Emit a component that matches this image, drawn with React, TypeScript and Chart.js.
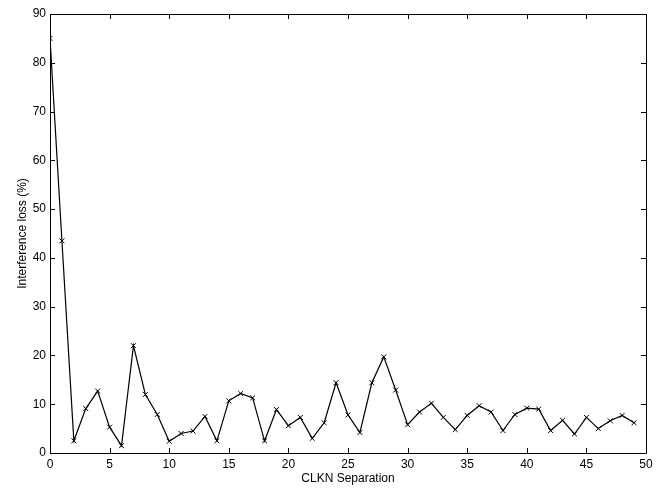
import React, { useEffect, useRef } from "react";
import { Chart, registerables } from "chart.js";

Chart.register(...registerables);

const separations: number[] = Array.from({ length: 50 }, (_, i) => i);
const lossValues: number[] = [
  85, 43.5, 2.5, 9.1, 12.7, 5.3, 1.5, 22.0, 12.0, 7.9,
  2.4, 4.0, 4.5, 7.5, 2.5, 10.7, 12.2, 11.3, 2.5, 8.9,
  5.6, 7.3, 3.0, 6.2, 14.4, 7.8, 4.2, 14.4, 19.7, 12.9,
  5.8, 8.4, 10.2, 7.3, 4.8, 7.7, 9.7, 8.4, 4.6, 7.9,
  9.2, 9.0, 4.6, 6.7, 3.9, 7.3, 5.0, 6.6, 7.7, 6.2,
];
const xTicks: number[] = [0, 5, 10, 15, 20, 25, 30, 35, 40, 45, 50];
const yTicks: number[] = [0, 10, 20, 30, 40, 50, 60, 70, 80, 90];
const xTitle = "CLKN Separation";
const yTitle = "Interference loss (%)";

const FONT = "'Liberation Sans', Arial, sans-serif";

const boxPlugin = {
  id: "matlabBox",
  afterDraw(chart: any) {
    const { ctx, chartArea } = chart;
    const xs = chart.scales.x;
    const ys = chart.scales.y;
    const { left, right, top, bottom } = chartArea;
    const len = 5;
    ctx.save();
    ctx.strokeStyle = "#000";
    ctx.lineWidth = 1;
    ctx.beginPath();
    ctx.rect(Math.round(left) + 0.5, Math.round(top) + 0.5, Math.round(right - left), Math.round(bottom - top));
    for (const v of xTicks) {
      const px = Math.round(xs.getPixelForValue(v)) + 0.5;
      ctx.moveTo(px, bottom);
      ctx.lineTo(px, bottom - len);
      ctx.moveTo(px, top);
      ctx.lineTo(px, top + len);
    }
    for (const v of yTicks) {
      const py = Math.round(ys.getPixelForValue(v)) + 0.5;
      ctx.moveTo(left, py);
      ctx.lineTo(left + len, py);
      ctx.moveTo(right, py);
      ctx.lineTo(right - len, py);
    }
    ctx.stroke();
    ctx.restore();
  },
};

export default function App() {
  const ref = useRef<HTMLCanvasElement | null>(null);
  useEffect(() => {
    document.body.style.margin = "0";
    const canvas = ref.current;
    if (!canvas) return;
    const chart = new Chart(canvas, {
      type: "line",
      data: {
        datasets: [
          {
            data: separations.map((x, i) => ({ x, y: lossValues[i] })),
            borderColor: "#000",
            borderWidth: 1.2,
            pointStyle: "crossRot",
            pointRadius: 3.5,
            pointBorderColor: "#000",
            pointBorderWidth: 1,
            pointBackgroundColor: "#000",
            fill: false,
            tension: 0,
          },
        ],
      },
      options: {
        animation: false,
        responsive: false,
        maintainAspectRatio: false,
        devicePixelRatio: 1,
        layout: { padding: { left: 0, top: 14, right: 19, bottom: 0 } },
        plugins: { legend: { display: false }, tooltip: { enabled: false } },
        scales: {
          x: {
            type: "linear",
            min: 0,
            max: 50,
            afterBuildTicks: (s: any) => {
              s.ticks = xTicks.map((v) => ({ value: v }));
            },
            afterFit: (s: any) => {
              s.height = 35;
            },
            grid: { display: false, drawTicks: false },
            border: { display: false },
            ticks: {
              color: "#000",
              font: { family: FONT, size: 12 },
              padding: 4,
              maxRotation: 0,
              autoSkip: false,
            },
            title: {
              display: true,
              text: xTitle,
              color: "#000",
              font: { family: FONT, size: 12 },
              padding: { top: 0, bottom: 2 },
            },
          },
          y: {
            type: "linear",
            min: 0,
            max: 90,
            afterBuildTicks: (s: any) => {
              s.ticks = yTicks.map((v) => ({ value: v }));
            },
            afterFit: (s: any) => {
              s.width = 50;
            },
            grid: { display: false, drawTicks: false },
            border: { display: false },
            ticks: {
              color: "#000",
              font: { family: FONT, size: 12 },
              padding: 4,
              autoSkip: false,
            },
            title: {
              display: true,
              text: yTitle,
              color: "#000",
              font: { family: FONT, size: 12 },
              padding: { top: 15, bottom: 0 },
            },
          },
        },
      },
      plugins: [boxPlugin],
    } as any);
    return () => chart.destroy();
  }, []);
  return (
    <div style={{ width: 665, height: 488, background: "#fff" }}>
      <canvas ref={ref} width={665} height={488} style={{ display: "block" }} />
    </div>
  );
}
